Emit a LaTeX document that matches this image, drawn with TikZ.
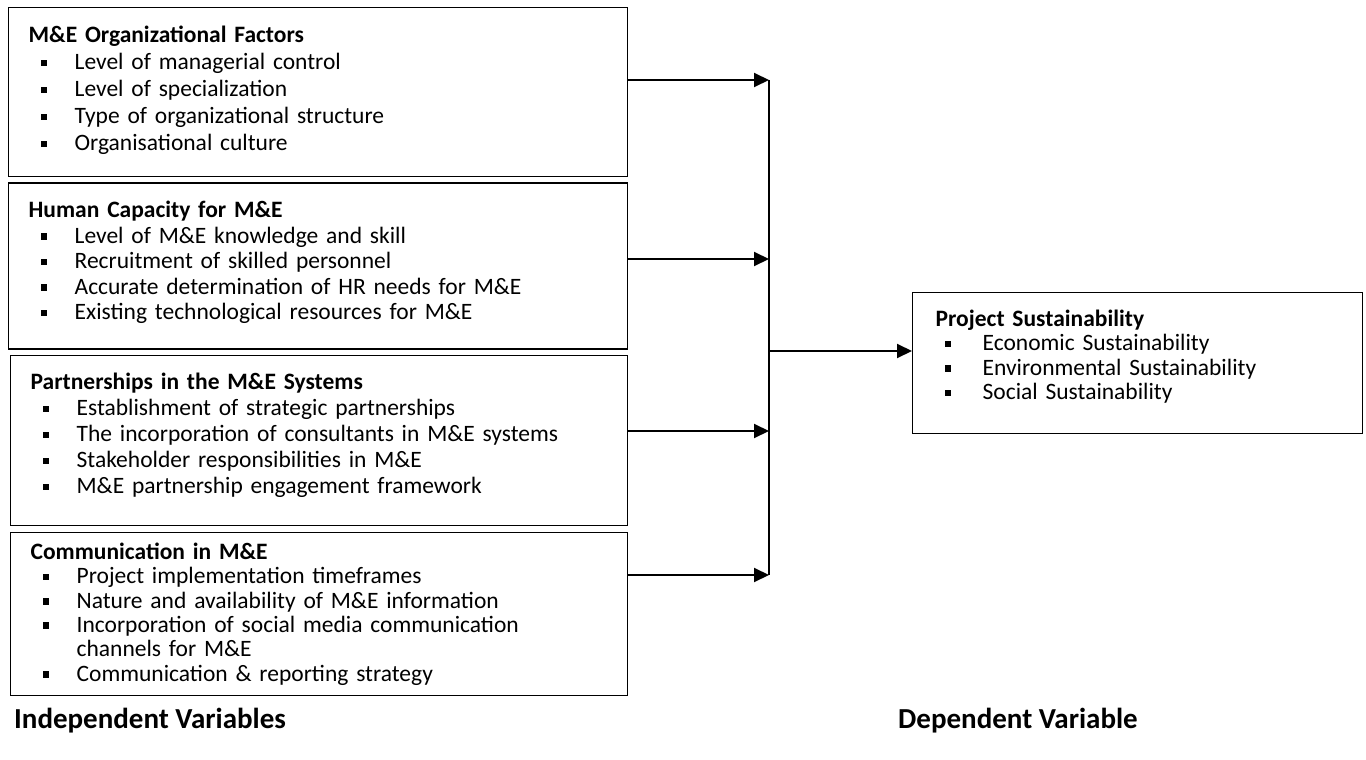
\documentclass[tikz,border=0pt]{standalone}
\usepackage{fontspec}
\setmainfont{Carlito}
\usetikzlibrary{arrows.meta,positioning}

% bullet lines for the factor boxes
\newcommand{\litem}[1]{\hspace*{12pt}\makebox[34pt][l]{\rule[3.5pt]{6.5pt}{6.5pt}}#1}
\newcommand{\ritem}[1]{\hspace*{9pt}\makebox[38pt][l]{\rule[3.5pt]{6.5pt}{6.5pt}}#1}
\newcommand{\padbelow}[1]{\rule[-#1]{0pt}{#1}}

\begin{document}
\begin{tikzpicture}[x=1pt,y=-1pt,>={Triangle[length=15pt,width=14pt]},
  varbox/.style={draw,line width=1.3pt,align=left,inner xsep=20pt,inner ysep=0pt,
    font=\fontsize{23.5}{26.5}\selectfont,anchor=north west},
  link/.style={->,line width=2pt},
  vtitle/.style={font=\fontsize{29}{32}\selectfont\bfseries,anchor=west,inner sep=0pt}]

\useasboundingbox (0,0) rectangle (1366,760);

% INDEPENDENT VARIABLES

% Organizational factors.
\node[varbox,text width=579pt,minimum height=169pt,font=\fontsize{23.5}{27}\selectfont] (org) at (8,7)
  {{\bfseries M\&E Organizational Factors}\\
   \litem{Level of managerial control}\\
   \litem{Level of specialization}\\
   \litem{Type of organizational structure}\\
   \litem{Organisational culture\padbelow{7pt}}};

% Human capacity.
\node[varbox,text width=579pt,minimum height=166pt,below=5pt of org.south west,anchor=north west,
  font=\fontsize{23.5}{25.5}\selectfont] (hum)
  {{\bfseries Human Capacity for M\&E}\\
   \litem{Level of M\&E knowledge and skill}\\
   \litem{Recruitment of skilled personnel}\\
   \litem{Accurate determination of HR needs for M\&E}\\
   \litem{Existing technological resources for M\&E\padbelow{11pt}}};

% Partnerships.
\node[varbox,text width=577pt,minimum height=170pt,below=5pt of hum.south west,xshift=2pt,anchor=north west,
  font=\fontsize{23.5}{26}\selectfont] (part)
  {{\bfseries Partnerships in the M\&E Systems}\\
   \litem{Establishment of strategic partnerships}\\
   \litem{The incorporation of consultants in M\&E systems}\\
   \litem{Stakeholder responsibilities in M\&E}\\
   \litem{M\&E partnership engagement framework\padbelow{13pt}}};

% Communication.
\node[varbox,text width=577pt,minimum height=163pt,below=6pt of part.south west,anchor=north west,
  font=\fontsize{23.5}{24.3}\selectfont] (comm)
  {{\bfseries Communication in M\&E}\\
   \litem{Project implementation timeframes}\\
   \litem{Nature and availability of M\&E information}\\
   \litem{Incorporation of social media communication}\\
   \hspace*{46pt}channels for M\&E\\
   \litem{Communication \& reporting strategy}};

% DEPENDENT VARIABLE

\node[varbox,inner xsep=23pt,text width=404pt,minimum height=141pt,
  font=\fontsize{23.5}{24.5}\selectfont] (sus) at (912,292)
  {{\bfseries Project Sustainability}\\
   \ritem{Economic Sustainability}\\
   \ritem{Environmental Sustainability}\\
   \ritem{Social Sustainability\padbelow{17pt}}};

% CONNECTIONS

\coordinate (j1) at (769,80);
\coordinate (j2) at (769,259);
\coordinate (j3) at (769,431);
\coordinate (j4) at (769,575);
\coordinate (jm) at (769,351);

\draw[link] (org.east |- j1) -- (j1);
\draw[link] (hum.east |- j2) -- (j2);
\draw[link] (part.east |- j3) -- (j3);
\draw[link] (comm.east |- j4) -- (j4);
\draw[line width=1.3pt] (j1) -- (j4);
\draw[link] (jm) -- (sus.west |- jm);

% Labels.
\node[vtitle] (indep) at (14,721) {Independent Variables};
\node[vtitle] (dep) at (898,721) {Dependent Variable};

\end{tikzpicture}
\end{document}
